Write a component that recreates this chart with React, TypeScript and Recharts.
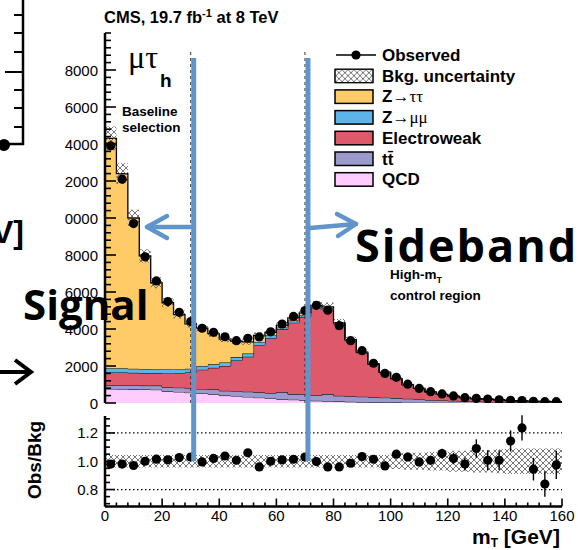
import React from "react";
import { ComposedChart, Area, Scatter, XAxis, YAxis, ReferenceLine, ErrorBar } from "recharts";

// 4 GeV bins, lower edges
const binLow = [0, 4, 8, 12, 16, 20, 24, 28, 32, 36, 40, 44, 48, 52, 56, 60, 64, 68, 72, 76, 80, 84, 88, 92, 96, 100, 104, 108, 112, 116, 120, 124, 128, 132, 136, 140, 144, 148, 152, 156];
const binWidth = 4;
const xMax = 160;

// stacked backgrounds (events / bin), bottom to top
const qcd = [760, 750, 740, 730, 720, 620, 600, 560, 520, 480, 400, 380, 330, 290, 250, 210, 180, 150, 120, 100, 80, 65, 50, 40, 30, 25, 20, 15, 12, 10, 8, 6, 5, 4, 3, 3, 2, 2, 1, 1];
const ttbar = [200, 200, 210, 210, 220, 220, 230, 230, 240, 250, 260, 270, 280, 290, 290, 380, 300, 310, 300, 380, 310, 300, 290, 280, 260, 240, 210, 180, 150, 130, 110, 90, 75, 60, 50, 42, 35, 30, 25, 20];
const ewk = [690, 700, 680, 680, 680, 760, 780, 860, 1040, 1170, 1340, 1650, 1890, 2560, 2960, 3390, 3860, 4190, 4730, 4620, 3890, 3010, 2380, 1780, 1350, 1040, 750, 590, 430, 320, 250, 200, 150, 140, 120, 80, 70, 60, 60, 50];
const zmm = [230, 230, 220, 220, 210, 210, 200, 200, 200, 190, 190, 180, 170, 160, 150, 140, 120, 100, 60, 40, 30, 20, 15, 10, 8, 6, 5, 4, 3, 2, 2, 1, 1, 1, 1, 1, 1, 0, 0, 0];
const ztt = [12420, 10520, 8150, 6110, 4670, 3610, 2970, 2430, 2050, 1660, 1260, 870, 630, 350, 170, 80, 140, 120, 70, 60, 40, 30, 20, 10, 7, 5, 4, 3, 3, 2, 2, 1, 1, 1, 1, 1, 1, 0, 0, 0];
// relative background uncertainty
const bkgUnc = [0.045, 0.045, 0.045, 0.045, 0.045, 0.045, 0.045, 0.045, 0.045, 0.045, 0.045, 0.045, 0.045, 0.045, 0.045, 0.045, 0.045, 0.045, 0.045, 0.045, 0.045, 0.045, 0.045, 0.045, 0.045, 0.055, 0.06, 0.06, 0.065, 0.065, 0.075, 0.075, 0.08, 0.08, 0.085, 0.09, 0.09, 0.09, 0.09, 0.09];

const observed = [13900, 12100, 9700, 7900, 6600, 5480, 4900, 4400, 4040, 3820, 3580, 3370, 3500, 3570, 3850, 4270, 4680, 5000, 5280, 5020, 4180, 3370, 2830, 2150, 1600, 1390, 1020, 790, 610, 490, 380, 290, 250, 210, 170, 150, 130, 90, 70, 70];
const ratio = [0.98, 0.98, 0.97, 1.0, 1.015, 1.01, 1.026, 1.03, 0.995, 1.02, 1.037, 1.007, 1.06, 0.96, 1.0, 1.01, 1.014, 1.03, 0.998, 0.96, 0.96, 0.986, 1.033, 1.014, 0.967, 1.05, 1.03, 0.995, 1.007, 1.054, 1.019, 0.98, 1.09, 1.007, 1.007, 1.143, 1.236, 0.944, 0.839, 0.974];
const ratioErr = [0.01, 0.01, 0.01, 0.01, 0.01, 0.01, 0.01, 0.01, 0.01, 0.01, 0.01, 0.01, 0.01, 0.01, 0.01, 0.01, 0.01, 0.01, 0.01, 0.01, 0.015, 0.015, 0.02, 0.02, 0.025, 0.025, 0.03, 0.03, 0.03, 0.035, 0.04, 0.045, 0.065, 0.07, 0.07, 0.075, 0.09, 0.08, 0.09, 0.1];

// axis ticks
const xMajor = [0, 20, 40, 60, 80, 100, 120, 140, 160];
const xLabels = ["0", "20", "40", "60", "80", "100", "120", "140", "160"];
const xMinor = [...binLow, 160];
const mainYMajor = [0, 2000, 4000, 6000, 8000, 10000, 12000, 14000, 16000, 18000];
const mainYLabels = ["0", "2000", "4000", "6000", "8000", "0000", "2000", "4000", "6000", "8000"];
const mainYMinor = Array.from({ length: 51 }, (_, i) => i * 400);
const ratioYMajor = [0.8, 1.0, 1.2];
const ratioYLabels = ["0.8", "1.0", "1.2"];
const ratioYMinor = [0.7, 0.75, 0.8, 0.85, 0.9, 0.95, 1.0, 1.05, 1.1, 1.15, 1.2, 1.25, 1.3];

const cuts = [30, 70];

const COL = { ztt: "#fecb67", zmm: "#5db4e9", ewk: "#de5a6a", tt: "#9b9acc", qcd: "#ffccff", blue: "#5f95cb" };

const legendItems = [
  { key: "ztt", color: COL.ztt },
  { key: "zmm", color: COL.zmm },
  { key: "ewk", color: COL.ewk, label: "Electroweak" },
  { key: "tt", color: COL.tt },
  { key: "qcd", color: COL.qcd, label: "QCD" },
];

const histRows = [...binLow, xMax].map((x, i) => {
  const k = Math.min(i, binLow.length - 1);
  const total = qcd[k] + ttbar[k] + ewk[k] + zmm[k] + ztt[k];
  return {
    x,
    qcd: qcd[k],
    tt: ttbar[k],
    ewk: ewk[k],
    zmm: zmm[k],
    ztt: ztt[k],
    band: [total * (1 - bkgUnc[k]), total * (1 + bkgUnc[k])],
    rband: [1 - bkgUnc[k], 1 + bkgUnc[k]],
  };
});
const obsRows = binLow.map((lo, i) => ({ x: lo + binWidth / 2, y: observed[i] }));
const ratioRows = binLow.map((lo, i) => ({ x: lo + binWidth / 2, y: ratio[i], err: ratioErr[i] }));

const PLOT_L = 105;
const PLOT_R = 562;
const gevX = (v: number) => PLOT_L + (v / xMax) * (PLOT_R - PLOT_L);

const FONT = "Liberation Sans, Arial, sans-serif";
const AXIS = { stroke: "#000", strokeWidth: 2.5 };
const MAIN_M = { top: 33, right: 16, bottom: 7, left: 0 };
const RATIO_M = { top: 16, right: 16, bottom: 23.5, left: 0 };

type Side = "left" | "right" | "top" | "bottom";
function tickMark(side: Side, majors: number[], labels: string[] | null, majorLen: number, minorLen: number) {
  return (props: any) => {
    const { x, y, payload } = props;
    const v = payload.value as number;
    const idx = majors.findIndex((m) => Math.abs(m - v) < 1e-6);
    const len = idx >= 0 ? majorLen : minorLen;
    let line = null;
    if (side === "left") line = <line x1={x} x2={x + len} y1={y} y2={y} stroke="#000" strokeWidth={1.6} />;
    if (side === "right") line = <line x1={x} x2={x - len} y1={y} y2={y} stroke="#000" strokeWidth={1.6} />;
    if (side === "top") line = <line x1={x} x2={x} y1={y} y2={y + len} stroke="#000" strokeWidth={1.6} />;
    if (side === "bottom") line = <line x1={x} x2={x} y1={y} y2={y - len} stroke="#000" strokeWidth={1.6} />;
    let text = null;
    if (labels && idx >= 0) {
      if (side === "left")
        text = (
          <text x={x - 7} y={y + 5.5} textAnchor="end" fontFamily={FONT} fontSize={15} fill="#000">
            {labels[idx]}
          </text>
        );
      if (side === "bottom")
        text = (
          <text x={x} y={y + 14} textAnchor="middle" fontFamily={FONT} fontSize={15} fill="#000">
            {labels[idx]}
          </text>
        );
    }
    return (
      <g>
        {line}
        {text}
      </g>
    );
  };
}

const dotShape = (p: any) => <circle cx={p.cx} cy={p.cy} r={4.6} fill="#000" />;

function MainSeries() {
  return (
    <ComposedChart width={578} height={410} data={histRows} margin={{ ...MAIN_M, left: PLOT_L }}>
      <XAxis dataKey="x" type="number" domain={[0, xMax]} hide allowDataOverflow />
      <YAxis type="number" domain={[0, 20000]} hide allowDataOverflow />
      <Area dataKey="qcd" stackId="s" type="stepAfter" fill={COL.qcd} fillOpacity={1} stroke="#000" strokeWidth={1} isAnimationActive={false} dot={false} activeDot={false} />
      <Area dataKey="tt" stackId="s" type="stepAfter" fill={COL.tt} fillOpacity={1} stroke="#000" strokeWidth={1} isAnimationActive={false} dot={false} activeDot={false} />
      <Area dataKey="ewk" stackId="s" type="stepAfter" fill={COL.ewk} fillOpacity={1} stroke="#000" strokeWidth={1} isAnimationActive={false} dot={false} activeDot={false} />
      <Area dataKey="zmm" stackId="s" type="stepAfter" fill={COL.zmm} fillOpacity={1} stroke="#000" strokeWidth={1} isAnimationActive={false} dot={false} activeDot={false} />
      <Area dataKey="ztt" stackId="s" type="stepAfter" fill={COL.ztt} fillOpacity={1} stroke="#000" strokeWidth={1.3} isAnimationActive={false} dot={false} activeDot={false} />
      <Area dataKey="band" type="stepAfter" fill="url(#xhatch)" fillOpacity={1} stroke="none" isAnimationActive={false} dot={false} activeDot={false} />
      {cuts.map((c) => (
        <ReferenceLine key={c} segment={[{ x: c, y: 0 }, { x: c, y: 19000 }]} stroke="#333" strokeWidth={1} strokeDasharray="3 3" />
      ))}
      <Scatter data={obsRows} dataKey="y" isAnimationActive={false} shape={dotShape} />
    </ComposedChart>
  );
}

// frame and ticks drawn on top of the filled histograms
function MainAxes() {
  return (
    <ComposedChart width={578} height={410} data={histRows} margin={MAIN_M}>
      <XAxis dataKey="x" type="number" domain={[0, xMax]} ticks={xMinor} interval={0} height={0} tickSize={0} tickMargin={0} tickLine={false} axisLine={AXIS} tick={tickMark("bottom", xMajor, null, 9, 5)} allowDataOverflow />
      <XAxis xAxisId="t" orientation="top" type="number" domain={[0, xMax]} ticks={xMinor} interval={0} height={0} tickSize={0} tickMargin={0} tickLine={false} axisLine={AXIS} tick={tickMark("top", xMajor, null, 9, 5)} allowDataOverflow />
      <YAxis type="number" domain={[0, 20000]} ticks={mainYMinor} interval={0} width={105} tickSize={0} tickMargin={0} tickLine={false} axisLine={AXIS} tick={tickMark("left", mainYMajor, mainYLabels, 11, 6)} allowDataOverflow />
      <YAxis yAxisId="r" orientation="right" type="number" domain={[0, 20000]} ticks={mainYMinor} interval={0} width={0} tickSize={0} tickMargin={0} tickLine={false} axisLine={AXIS} tick={tickMark("right", mainYMajor, null, 11, 6)} allowDataOverflow />
    </ComposedChart>
  );
}

function RatioSeries() {
  return (
    <ComposedChart width={578} height={150} data={histRows} margin={{ ...RATIO_M, left: PLOT_L, bottom: RATIO_M.bottom + 20 }}>
      <XAxis dataKey="x" type="number" domain={[0, xMax]} hide allowDataOverflow />
      <YAxis type="number" domain={[0.68, 1.32]} hide allowDataOverflow />
      <Area dataKey="rband" type="stepAfter" fill="url(#xhatch)" fillOpacity={1} stroke="none" isAnimationActive={false} dot={false} activeDot={false} />
      {[0.8, 1.2].map((v) => (
        <ReferenceLine key={v} y={v} stroke="#000" strokeWidth={1.2} strokeDasharray="1.5 2.5" />
      ))}
      <Scatter data={ratioRows} dataKey="y" isAnimationActive={false} shape={dotShape}>
        <ErrorBar dataKey="err" direction="y" width={0} stroke="#000" strokeWidth={1.4} />
      </Scatter>
    </ComposedChart>
  );
}

function RatioAxes() {
  return (
    <ComposedChart width={578} height={150} data={histRows} margin={RATIO_M}>
      <XAxis dataKey="x" type="number" domain={[0, xMax]} ticks={xMinor} interval={0} height={20} tickSize={0} tickMargin={0} tickLine={false} axisLine={AXIS} tick={tickMark("bottom", xMajor, xLabels, 8, 4)} allowDataOverflow />
      <XAxis xAxisId="t" orientation="top" type="number" domain={[0, xMax]} ticks={xMinor} interval={0} height={0} tickSize={0} tickMargin={0} tickLine={false} axisLine={AXIS} tick={tickMark("top", xMajor, null, 6, 3)} allowDataOverflow />
      <YAxis type="number" domain={[0.68, 1.32]} ticks={ratioYMinor} interval={0} width={105} tickSize={0} tickMargin={0} tickLine={false} axisLine={AXIS} tick={tickMark("left", ratioYMajor, ratioYLabels, 10, 5)} allowDataOverflow />
      <YAxis yAxisId="r" orientation="right" type="number" domain={[0.68, 1.32]} ticks={ratioYMinor} interval={0} width={0} tickSize={0} tickMargin={0} tickLine={false} axisLine={AXIS} tick={tickMark("right", ratioYMajor, null, 10, 5)} allowDataOverflow />
    </ComposedChart>
  );
}

function LegendRow({ i, children }: { i: number; children: React.ReactNode }) {
  const y = 55 + i * 20.7;
  return <g transform={`translate(0,${y})`}>{children}</g>;
}

function Overlay() {
  const legendText = (node: React.ReactNode) => (
    <text x={382} y={6} fontFamily={FONT} fontWeight={700} fontSize={17} fill="#000">
      {node}
    </text>
  );
  const box = (fill: string) => <rect x={335} y={-6.5} width={38} height={13.5} fill={fill} stroke="#000" strokeWidth={1.5} />;
  const leftFragTicks = [15, 33, 52, 72, 90, 108, 127];
  return (
    <svg width={578} height={550} style={{ position: "absolute", left: 0, top: 0, pointerEvents: "none" }}>
      {/* pieces of the neighbouring slide content */}
      <line x1={23} y1={0} x2={23} y2={145} stroke="#000" strokeWidth={2.5} />
      <line x1={0} y1={144} x2={24} y2={144} stroke="#000" strokeWidth={2.5} />
      {leftFragTicks.map((t) => (
        <line key={t} x1={t === 72 ? 5 : 14} x2={23} y1={t} y2={t} stroke="#000" strokeWidth={2} />
      ))}
      <circle cx={4} cy={145} r={6} fill="#000" />
      <text x={24} y={243} textAnchor="end" fontFamily={FONT} fontWeight={700} fontSize={32} fill="#000">
        V]
      </text>
      <line x1={0} y1={372} x2={29} y2={372} stroke="#000" strokeWidth={4} />
      <polyline points="15,360 31,372 15,384" fill="none" stroke="#000" strokeWidth={4} />

      {/* title and labels */}
      <text x={104} y={23} fontFamily={FONT} fontWeight={700} fontSize={16.5} fill="#000">
        CMS, 19.7 fb
        <tspan dy={-6} fontSize={11}>-1</tspan>
        <tspan dy={6}> at 8 TeV</tspan>
      </text>
      <text x={128} y={68} fontFamily="Liberation Serif, serif" fontSize={32} fill="#000">
        μτ
      </text>
      <text x={160} y={87} fontFamily={FONT} fontWeight={700} fontSize={19} fill="#000">
        h
      </text>
      <text x={122} y={116} fontFamily={FONT} fontWeight={700} fontSize={13.5} fill="#000">
        Baseline
      </text>
      <text x={122} y={132} fontFamily={FONT} fontWeight={700} fontSize={13.5} fill="#000">
        selection
      </text>
      <text x={390} y={279} fontFamily={FONT} fontWeight={700} fontSize={13.5} fill="#000">
        High-m
        <tspan dy={4} fontSize={9}>T</tspan>
      </text>
      <text x={390} y={300} fontFamily={FONT} fontWeight={700} fontSize={13.5} fill="#000">
        control region
      </text>

      {/* legend */}
      <LegendRow i={0}>
        <line x1={336} x2={376} y1={0} y2={0} stroke="#000" strokeWidth={1.5} />
        <circle cx={356} cy={0} r={4.6} fill="#000" />
        {legendText("Observed")}
      </LegendRow>
      <LegendRow i={1}>
        <rect x={335} y={-6.5} width={38} height={13.5} fill="#fff" stroke="#000" strokeWidth={1} />
        <rect x={335} y={-6.5} width={38} height={13.5} fill="url(#xhatch)" stroke="#000" strokeWidth={1} />
        {legendText("Bkg. uncertainty")}
      </LegendRow>
      {legendItems.map((it, i) => (
        <LegendRow key={it.key} i={i + 2}>
          {box(it.color)}
          {it.key === "ztt" &&
            legendText(
              <>
                Z<tspan fontFamily="Liberation Serif, serif" fontWeight={400}>→ττ</tspan>
              </>
            )}
          {it.key === "zmm" &&
            legendText(
              <>
                Z<tspan fontFamily="Liberation Serif, serif" fontWeight={400}>→μμ</tspan>
              </>
            )}
          {it.key === "tt" && legendText("tt\u0304")}
          {it.label && legendText(it.label)}
        </LegendRow>
      ))}

      {/* axis titles */}
      <text transform="translate(41,460) rotate(-90)" textAnchor="middle" fontFamily={FONT} fontWeight={700} fontSize={19} fill="#000">
        Obs/Bkg
      </text>
      <text x={472} y={544} fontFamily={FONT} fontWeight={700} fontSize={21} fill="#000">
        m<tspan dy={3} fontSize={12}>T</tspan>
        <tspan dy={-3}> [GeV]</tspan>
      </text>

      {/* signal / sideband annotation */}
      {cuts.map((c) => (
        <line key={c} x1={gevX(c) + 3} x2={gevX(c) + 3} y1={58} y2={461} stroke={COL.blue} strokeWidth={5} />
      ))}
      <g stroke={COL.blue} strokeWidth={4.5} fill="none" strokeLinecap="round" strokeLinejoin="round">
        <line x1={gevX(cuts[0]) + 1} y1={227} x2={147} y2={227} />
        <polyline points="167,216 147,227 167,238" />
        <line x1={gevX(cuts[1]) + 5} y1={228} x2={356} y2={224} />
        <polyline points="337,214 356,224 338,236" />
      </g>
      <text x={23} y={320} fontFamily="Open Sans, sans-serif" fontWeight={700} fontSize={42} fill="#000">
        Signal
      </text>
      <text x={355} y={262} fontFamily="Open Sans, sans-serif" fontWeight={700} fontSize={45} letterSpacing={2} fill="#000">
        Sideband
      </text>
    </svg>
  );
}

export default function App() {
  return (
    <div style={{ position: "absolute", left: 0, top: 0, width: 578, height: 550, background: "#fff", overflow: "hidden" }}>
      <svg width={0} height={0} style={{ position: "absolute" }}>
        <defs>
          <pattern id="xhatch" width={6} height={6} patternUnits="userSpaceOnUse">
            <path d="M0,0 L6,6 M6,0 L0,6" stroke="#555" strokeWidth={0.8} />
          </pattern>
        </defs>
      </svg>
      <div style={{ position: "absolute", left: 0, top: 0 }}>
        <MainSeries />
      </div>
      <div style={{ position: "absolute", left: 0, top: 0 }}>
        <MainAxes />
      </div>
      <div style={{ position: "absolute", left: 0, top: 400 }}>
        <RatioSeries />
      </div>
      <div style={{ position: "absolute", left: 0, top: 400 }}>
        <RatioAxes />
      </div>
      <Overlay />
    </div>
  );
}
